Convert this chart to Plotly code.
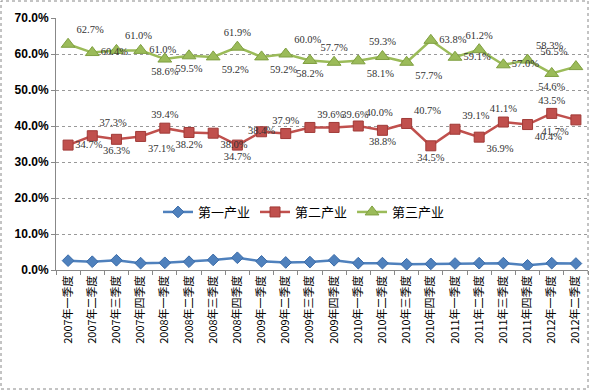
import plotly.graph_objects as go

categories = [f"{y}年{q}季度" for y in range(2007, 2013) for q in ["一", "二", "三", "四"]][:22]

primary = [2.6, 2.3, 2.7, 1.9, 2.0, 2.3, 2.8, 3.4, 2.4, 2.1, 2.2, 2.7, 1.9, 1.9, 1.6, 1.7, 1.8, 1.9, 1.9, 1.3, 1.9, 1.8]
secondary = [34.7, 37.3, 36.3, 37.1, 39.4, 38.2, 38.0, 34.7, 38.4, 37.9, 39.6, 39.6, 40.0, 38.8, 40.7, 34.5, 39.1, 36.9, 41.1, 40.4, 43.5, 41.7]
tertiary = [62.7, 60.4, 61.0, 61.0, 58.6, 59.5, 59.2, 61.9, 59.2, 60.0, 58.2, 57.7, 58.1, 59.3, 57.7, 63.8, 59.1, 61.2, 57.0, 58.3, 54.6, 56.5]

names = ["第一产业", "第二产业", "第三产业"]

sec_pos = ["middle right", "top right", "bottom center", "bottom right", "top center", "bottom center",
           "bottom right", "bottom center", "middle center", "top center", "top right", "top right",
           "top right", "bottom center", "top right", "bottom center", "top right", "bottom right",
           "top center", "bottom right", "top center", "bottom left"]
ter_pos = ["top right", "middle right", "top right", "middle right", "bottom center", "bottom center",
           "bottom right", "top center", "bottom right", "top right", "bottom center", "top center",
           "bottom right", "top center", "bottom right", "middle right", "middle right", "top center",
           "middle right", "top right", "bottom center", "top left"]

label_font = dict(family="Liberation Serif", size=10.5, color="#333333")

fig = go.Figure()
fig.add_trace(go.Scatter(
    x=categories, y=primary, name=names[0], mode="lines+markers",
    line=dict(color="#4F81BD", width=2.5),
    marker=dict(symbol="diamond", size=9, color="#4F81BD", line=dict(color="#3A6BA8", width=1)),
))
fig.add_trace(go.Scatter(
    x=categories, y=secondary, name=names[1], mode="lines+markers+text",
    line=dict(color="#C0504D", width=2.5),
    marker=dict(symbol="square", size=10, color="#C0504D", line=dict(color="#A03A37", width=1)),
    text=[f"{v:.1f}%" for v in secondary], textposition=sec_pos, textfont=label_font,
))
fig.add_trace(go.Scatter(
    x=categories, y=tertiary, name=names[2], mode="lines+markers+text",
    line=dict(color="#9BBB59", width=2.5),
    marker=dict(symbol="triangle-up", size=12, color="#9BBB59", line=dict(color="#7F9F40", width=1)),
    text=[f"{v:.1f}%" for v in tertiary], textposition=ter_pos, textfont=label_font,
))

W, H = 590, 391
ml, mr, mt, mb = 56, 2, 18, 121
pw, ph = W - ml - mr, H - mt - mb

def px_x(x):
    return (x - ml) / pw

def px_y(y):
    return (H - mb - y) / ph

fig.update_layout(
    width=W, height=H,
    margin=dict(l=ml, r=mr, t=mt, b=mb, autoexpand=False),
    paper_bgcolor="white", plot_bgcolor="white",
    showlegend=True,
    legend=dict(orientation="h", x=px_x(158), y=px_y(212), xanchor="left", yanchor="middle",
                font=dict(family="Noto Sans CJK SC", size=13, color="#000000"),
                bgcolor="rgba(0,0,0,0)", itemwidth=30, tracegroupgap=0),
    xaxis=dict(
        tickangle=-90, tickfont=dict(family="Noto Sans CJK SC", size=11, color="#000000"),
        showline=True, linecolor="#888888", linewidth=1, automargin=False,
        ticks="outside", ticklen=4, tickcolor="#888888", tickson="boundaries",
        showgrid=False, range=[-0.5, 21.5],
    ),
    yaxis=dict(
        range=[0, 70], dtick=10, tickformat=".1f", ticksuffix="%", automargin=False,
        tickfont=dict(family="Liberation Sans", size=12, color="#000000", weight="bold"),
        showline=True, linecolor="#888888", linewidth=1,
        ticks="outside", ticklen=4, tickcolor="#888888",
        showgrid=True, gridcolor="#999999", griddash="dot", gridwidth=1,
        zeroline=False,
    ),
    shapes=[dict(type="rect", xref="paper", yref="paper",
                 x0=px_x(1), x1=px_x(588), y0=px_y(389), y1=px_y(1),
                 line=dict(color="#888888", width=1, dash="dot"), layer="above")],
)

fig.write_html("out.html", config={"displayModeBar": False},
               post_script="document.body.style.margin='0';document.body.style.padding='0';")
